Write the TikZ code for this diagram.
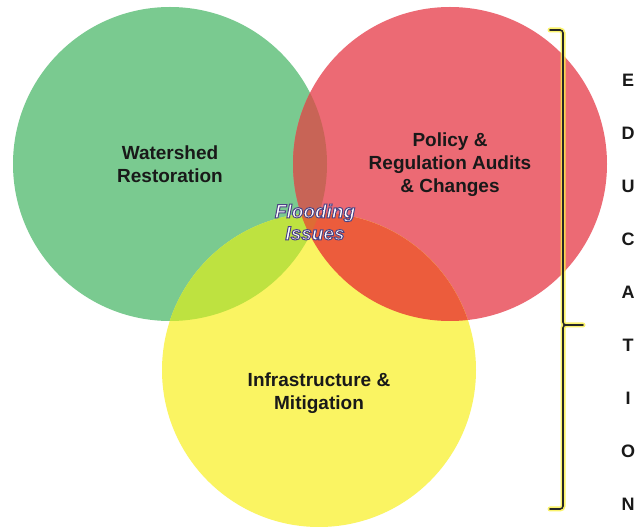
\documentclass[tikz,border=0pt]{standalone}
\usepackage{fontspec}
\setmainfont{Liberation Sans}
\usetikzlibrary{positioning}

\definecolor{wsgreen}{RGB}{122,202,144}
\definecolor{polred}{RGB}{236,106,116}
\definecolor{infyellow}{RGB}{250,244,98}
\definecolor{grmix}{RGB}{200,100,86}
\definecolor{gymix}{RGB}{190,226,64}
\definecolor{rymix}{RGB}{236,92,60}
\definecolor{allmix}{RGB}{222,108,52}
\definecolor{braceglow}{RGB}{250,240,70}
% outlined text: fill white, stroke dark violet
\newcommand{\outlinedon}{\special{pdf:code 2 Tr 0.30 0.26 0.52 RG 1.0 w}}
\newcommand{\outlinedoff}{\special{pdf:code 0 Tr}}

\begin{document}
\begin{tikzpicture}[x=1pt,y=-1pt,node distance=280pt,
		font=\bfseries\fontsize{19}{23}\selectfont]
		\tikzstyle{blob}=[circle,minimum size=314pt,inner sep=0pt]
		\tikzstyle{caption}=[align=center,text=black!90]
		\tikzstyle{flood}=[align=center,text=white,font=\bfseries\itshape\fontsize{19}{22}\selectfont]
		\tikzstyle{letter}=[font=\bfseries\fontsize{18}{18}\selectfont,text=black!90]
		\tikzstyle{bracket}=[rounded corners=3pt,line cap=round]
		
		\fill[white] (0,0) rectangle (641,529);
		\useasboundingbox (0,0) rectangle (641,529);
		
		\node[blob,fill=wsgreen]	(Watershed)		at (170,164)			{};
		\node[blob,fill=polred]		(Policy)		[right of=Watershed]	{};
		\node[blob,fill=infyellow]	(Infra)			at (319,370)			{};
		
		% overlaps
		\begin{scope}
			\clip (Watershed.center) circle[radius=157pt];
			\fill[grmix] (Policy.center) circle[radius=157pt];
			\fill[gymix] (Infra.center) circle[radius=157pt];
		\end{scope}
		\begin{scope}
			\clip (Policy.center) circle[radius=157pt];
			\fill[rymix] (Infra.center) circle[radius=157pt];
			\clip (Watershed.center) circle[radius=157pt];
			\fill[allmix] (Infra.center) circle[radius=157pt];
		\end{scope}
		
		\node[caption]	(WatershedText)	at (Watershed)	{Watershed\\Restoration};
		\node[caption]	(PolicyText)	at ([yshift=-1pt]Policy)	{Policy \&\\Regulation Audits\\\& Changes};
		\node[caption]	(InfraText)		at ([yshift=-23pt]Infra)	{Infrastructure \&\\Mitigation};
		
		\node[flood]	(Flooding)	at (315,222)	{\outlinedon Flooding\\Issues\outlinedoff};
		
		% education bracket
		\coordinate (BraceTop) at (550,30);
		\coordinate (Spine) at (563,325);
		\coordinate (BraceTick) at (583,325);
		\coordinate (BraceBottom) at (550,509);
		\draw[bracket,braceglow,line width=5pt,opacity=.8] (BraceTop) -| (Spine) -- (BraceTick)
			(BraceTick) -- (Spine) |- (BraceBottom);
		\draw[bracket,black!85,line width=1.6pt] (BraceTop) -| (Spine) -- (BraceTick)
			(BraceTick) -- (Spine) |- (BraceBottom);
		
		\foreach \l [count=\i from 0] in {E,D,U,C,A,T,I,O,N}
			\node[letter] (Edu\i) at (628,80+53*\i) {\l};
\end{tikzpicture}
\end{document}
